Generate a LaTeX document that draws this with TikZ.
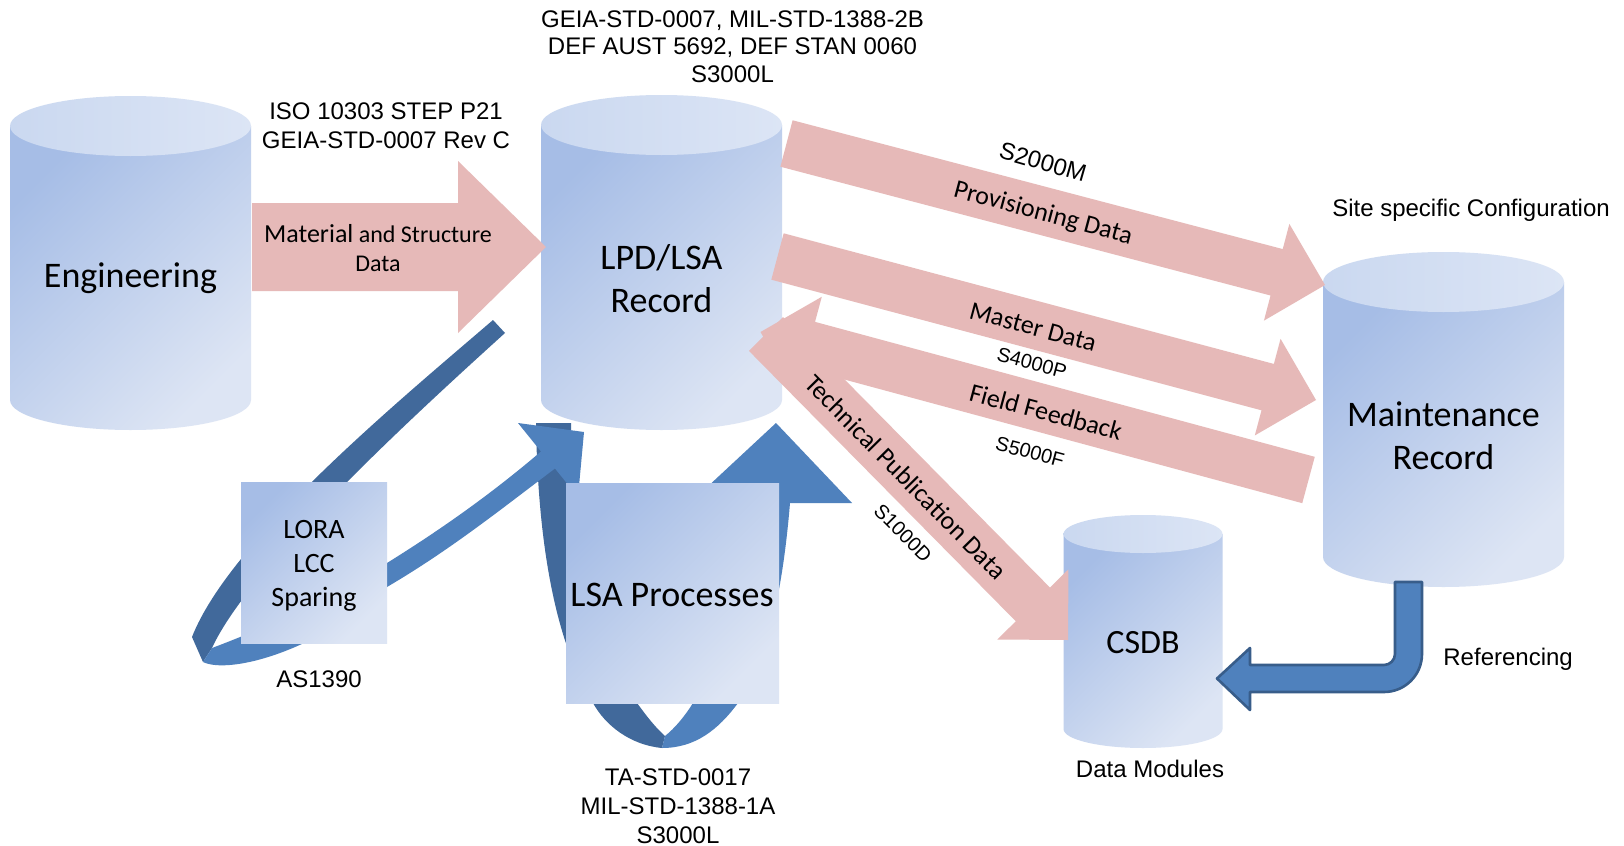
\documentclass[tikz,border=0pt]{standalone}
\usepackage{fontspec}
\setmainfont{Carlito}
\newfontfamily\arialfont{Liberation Sans}
\usetikzlibrary{calc}

\definecolor{datapink}{HTML}{E6B9B8}
\definecolor{loopblue}{HTML}{4F81BD}
\definecolor{loopdark}{HTML}{41699B}
\definecolor{refedge}{HTML}{385D8A}
\definecolor{fillA}{HTML}{A6BDE6}
\definecolor{fillB}{HTML}{DDE5F4}
\definecolor{capA}{HTML}{CAD8F0}
\definecolor{capB}{HTML}{DCE5F5}

% cylinder: centre x, half width, top y, bottom y, end half height
\newcommand{\dbcylinder}[5]{%
  \shade[top color=fillA, bottom color=fillB, shading angle=45]
    (#1-#2,#3) -- (#1-#2,#4)
    .. controls (#1-#2,#4+0.552*#5) and (#1-0.552*#2,#4+#5) .. (#1,#4+#5)
    .. controls (#1+0.552*#2,#4+#5) and (#1+#2,#4+0.552*#5) .. (#1+#2,#4)
    -- (#1+#2,#3) -- cycle;
  \shade[left color=capA, right color=capB] (#1,#3) ellipse [x radius=0.5pt*#2, y radius=0.5pt*#5];
}

% block arrow: tail, tip, half shaft, half head, head length
\newcommand{\blockarrow}[5]{%
  \coordinate (ah) at ($(#2)!#5!(#1)$);
  \fill[datapink] ($(#1)!#3!90:(#2)$) -- ($(ah)!#3!90:(#2)$) -- ($(ah)!#4!90:(#2)$) -- (#2)
    -- ($(ah)!#4!-90:(#2)$) -- ($(ah)!#3!-90:(#2)$) -- ($(#1)!#3!-90:(#2)$) -- cycle;
}

\begin{document}
\begin{tikzpicture}[x=0.5pt,y=-0.5pt]
	\tikzstyle{every node}+=[inner sep=0pt]
	\tikzstyle{stdtext}=[font=\arialfont\fontsize{12}{13.75}\selectfont, align=center]
	\tikzstyle{tagtext}=[font=\arialfont\fontsize{10}{12}\selectfont]
	\tikzstyle{flowtext}=[font=\fontsize{13}{14.5}\selectfont, align=center]
	\tikzstyle{storetext}=[font=\fontsize{18}{21.5}\selectfont, align=center]
	\tikzstyle{procbox}=[top color=fillA, bottom color=fillB, shading angle=45, align=center]
	\fill [white] (0,0) rectangle (1624,846);
	\useasboundingbox (0,0) rectangle (1624,846);
	% data stores
	\dbcylinder{130.5}{120.5}{126}{400}{30}
	\dbcylinder{661.5}{120.5}{125}{400}{30}
	\dbcylinder{1443.5}{120.5}{282}{557}{30}
	\dbcylinder{1143}{79.5}{534}{729}{19}
	\node [storetext] (eng) at (130.5,278) {Engineering};
	\node [storetext] (lpd) at (661.5,279) {LPD/LSA\\Record};
	\node [storetext] (mnt) at (1443.5,436) {Maintenance\\Record};
	\node [storetext, font=\fontsize{17}{20}\selectfont] (csdb) at (1143,643) {CSDB};
	% data flows
	\coordinate (mat-a) at (252,247);
	\coordinate (mat-b) at (546,247);
	\coordinate (prov-a) at (786.5,143.5);
	\coordinate (prov-b) at (1325,285);
	\coordinate (mast-a) at (777.5,256.5);
	\coordinate (mast-b) at (1316,400);
	\coordinate (feed-a) at (1308.5,480);
	\coordinate (feed-b) at (760.5,332);
	\coordinate (tech-a) at (766,334);
	\coordinate (tech-b) at (1068,640);
	\blockarrow{mat-a}{mat-b}{22pt}{43pt}{44pt}
	\blockarrow{prov-a}{prov-b}{12pt}{25pt}{25pt}
	\blockarrow{mast-a}{mast-b}{12pt}{25pt}{25pt}
	\blockarrow{tech-a}{tech-b}{12pt}{25pt}{25pt}
	\blockarrow{feed-a}{feed-b}{12pt}{25pt}{25pt}
	% LSA loop
	\fill [loopdark] (536,423) -- (571,423) .. controls (575,560) and (600,650) .. (637,703)
		.. controls (648,718) and (656,728) .. (665,736) -- (662,748)
		.. controls (630,745) and (605,725) .. (593,703) .. controls (560,650) and (538,560) .. (536,423) -- cycle;
	\fill [loopblue] (662,748) .. controls (695,748) and (718,730) .. (738,703)
		.. controls (765,665) and (782,600) .. (790,503) -- (852,503) -- (776,423) -- (690,503) -- (745,503)
		.. controls (740,600) and (720,670) .. (693,703) .. controls (685,716) and (675,728) .. (665,736) -- cycle;
	% LORA loop
	\fill [loopdark] (493,320) .. controls (400,400) and (230,540) .. (192,637) -- (203,662) -- (212,648)
		.. controls (250,565) and (420,410) .. (505,333) -- cycle;
	\fill [loopblue] (203,662) .. controls (230,675) and (320,650) .. (387,587)
		.. controls (450,550) and (500,510) .. (555,468.5) -- (578,497) -- (584,432) -- (518,423) -- (541,451.5)
		.. controls (490,495) and (440,530) .. (387,563) .. controls (330,600) and (260,630) .. (212,648) -- cycle;
	% process boxes
	\node [procbox, minimum width=73pt, minimum height=80.5pt] (lora) at (314,562.5) {};
	\node [procbox, minimum width=106.5pt, minimum height=110pt] (lsa) at (672.5,593) {};
	\node [font=\fontsize{14}{17}\selectfont, align=center] (loratext) at (314,566) {LORA\\LCC\\Sparing};
	\node [storetext] (lsatext) at (672,595) {LSA Processes};
	% referencing
	\filldraw [fill=loopblue, draw=refedge, line width=1.3pt, line join=round]
		(1395,582) -- (1422,582) -- (1422,654) .. controls (1422,675) and (1405,692) .. (1384,692)
		-- (1250,692) -- (1250,710) -- (1217,678.5) -- (1250,648) -- (1250,665) -- (1384,665)
		.. controls (1390,665) and (1395,660) .. (1395,654) -- cycle;
	% labels
	\node [stdtext] (std) at (732.5,46.5) {GEIA-STD-0007, MIL-STD-1388-2B\\DEF AUST 5692, DEF STAN 0060\\S3000L};
	\node [stdtext, font=\arialfont\fontsize{12}{14.5}\selectfont] (iso) at (386,125.5) {ISO 10303 STEP P21\\GEIA-STD-0007 Rev C};
	\node [flowtext, font=\fontsize{12}{14.5}\selectfont] (mattext) at (378,248) {{\fontsize{13}{14.5}\selectfont Material} and Structure\\Data};
	\node [stdtext] (as) at (319,679) {AS1390};
	\node [stdtext, font=\arialfont\fontsize{12}{14.5}\selectfont] (ta) at (678,806) {TA-STD-0017\\MIL-STD-1388-1A\\S3000L};
	\node [stdtext] (site) at (1471,210) {Site specific Configuration};
	\node [stdtext] (dm) at (1150,769) {Data Modules};
	\node [stdtext, anchor=base west] (ref) at (1443,665) {Referencing};
	\node [stdtext, rotate=-16] (s2000) at (1043,162) {S2000M};
	\node [flowtext, rotate=-15] (provtext) at (1043,214) {Provisioning Data};
	\node [flowtext, rotate=-15] (masttext) at (1033,327) {Master Data};
	\node [tagtext, rotate=-15] (s4000) at (1032,363) {S4000P};
	\node [flowtext, rotate=-15] (feedtext) at (1046,412) {Field Feedback};
	\node [tagtext, rotate=-15] (s5000) at (1030,452) {S5000F};
	\node [flowtext, rotate=-45.4] (techtext) at (906,477) {Technical Publication Data};
	\node [tagtext, rotate=-45] (s1000) at (903,533) {S1000D};
\end{tikzpicture}
\end{document}
